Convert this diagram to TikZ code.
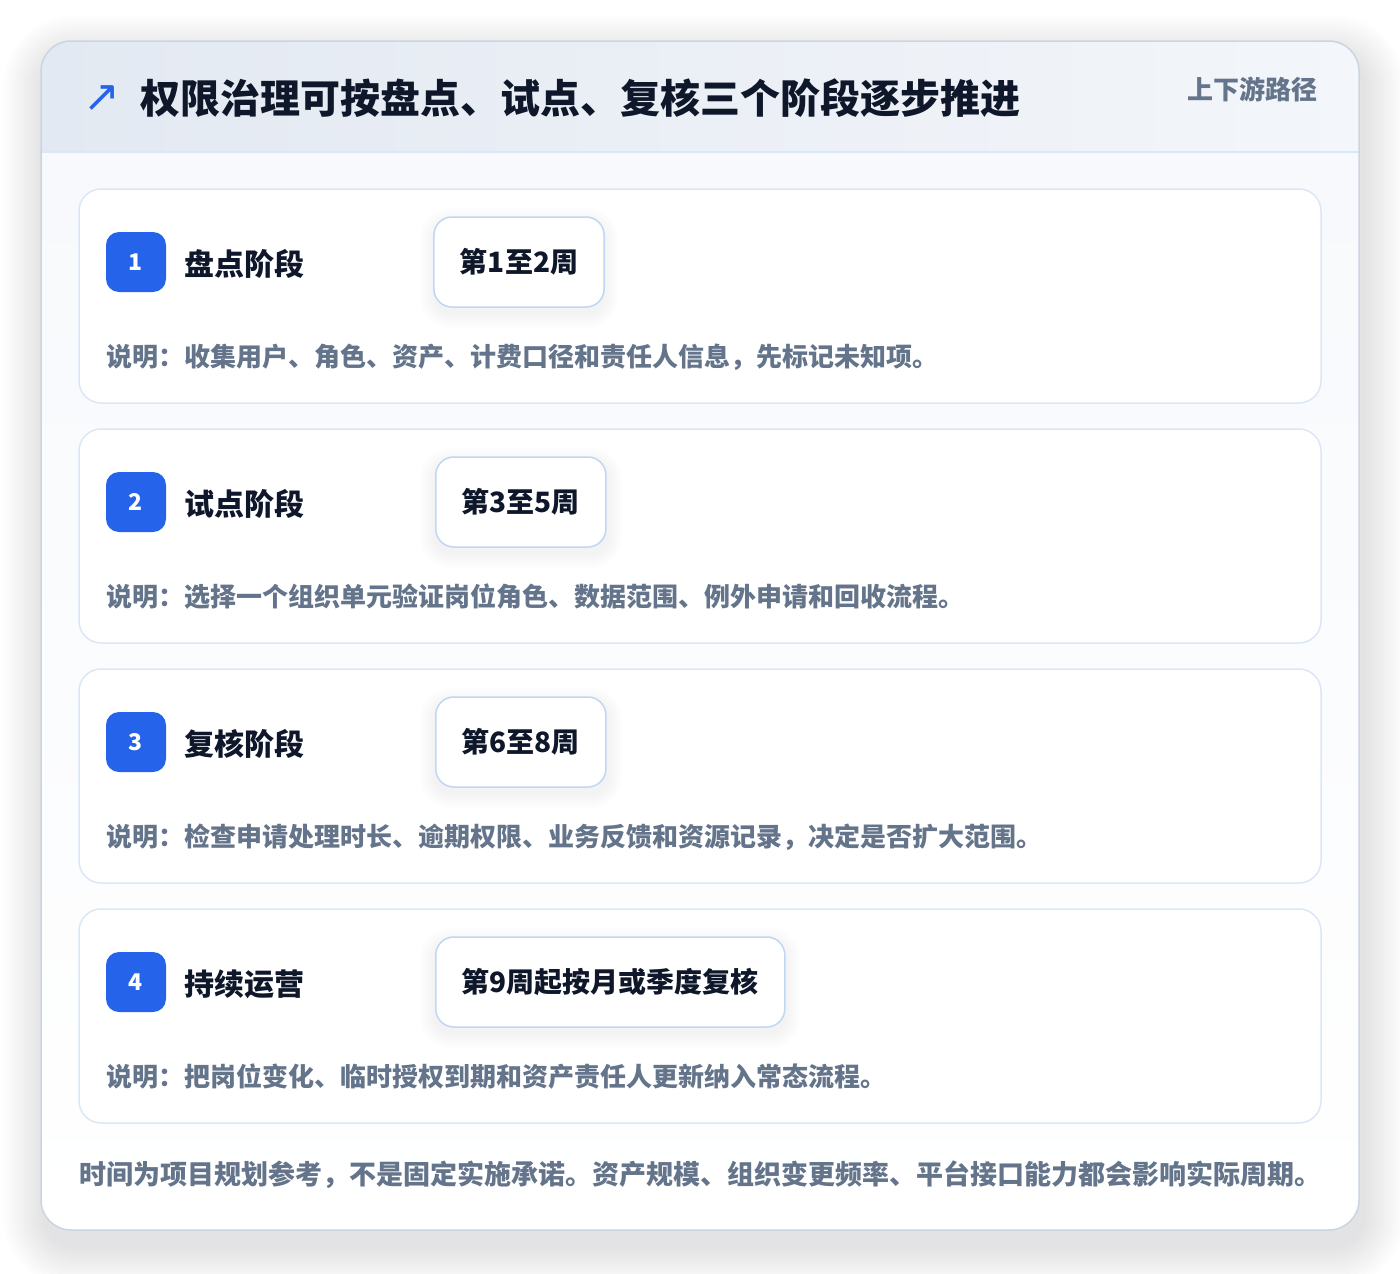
\documentclass[tikz,border=0pt]{standalone}
\usepackage{fontspec}
\setmainfont{Noto Sans CJK SC}
\newfontfamily\symfont{DejaVu Sans}
\definecolor{ink}{HTML}{0F172A}
\definecolor{muted}{HTML}{64748B}
\definecolor{brand}{HTML}{2563EB}
\definecolor{cardline}{HTML}{DBE7F7}
\definecolor{pillline}{HTML}{BFD6F5}
\definecolor{frameline}{HTML}{CBD5E1}
\definecolor{headL}{HTML}{E3E9F2}
\definecolor{headR}{HTML}{F3F6FA}
\definecolor{bodytop}{HTML}{F7F9FC}
\definecolor{shadowc}{HTML}{475569}
\tikzset{
  stagecard/.style={draw=cardline, line width=1.5pt, fill=white, rounded corners=22pt,
    minimum width=1242pt, minimum height=214pt, inner sep=0pt},
  badge/.style={fill=brand, rounded corners=13pt, minimum width=60pt, minimum height=60pt,
    inner sep=0pt, text=white, font=\bfseries\fontsize{23}{23}\selectfont},
  stagetitle/.style={anchor=west, inner sep=0pt, text=ink, font=\bfseries\fontsize{30}{30}\selectfont},
  pill/.style={draw=pillline, line width=1.5pt, fill=white, rounded corners=18pt,
    minimum height=90pt, inner xsep=26pt, inner ysep=0pt, text=ink,
    font=\bfseries\fontsize{28}{28}\selectfont},
  desc/.style={anchor=west, inner sep=0pt, text=muted, font=\bfseries\fontsize{26}{26}\selectfont},
  softshade/.style={fill=shadowc, fill opacity=#1, draw=none},
}
\newcommand{\pillshadow}[4]{% x1 y1 x2 y2
  \foreach \i in {1,...,6}{
    \fill[softshade=0.008, rounded corners={18pt+\i*2pt}]
      ({#1-\i*2.5},{#2-\i*2.5+6}) rectangle ({#3+\i*2.5},{#4+\i*2.5+6});
  }}
\begin{document}
\begin{tikzpicture}[x=1pt,y=-1pt]
\useasboundingbox (0,0) rectangle (1400,1274);
\fill[white] (0,0) rectangle (1400,1274);
% soft shadow of the main frame
\foreach \i in {1,...,14}{
  \fill[softshade=0.007, rounded corners={30pt+\i*3pt}]
    ({41-\i*3+4},{41-\i*3+16}) rectangle ({1359+\i*3+4},{1230+\i*3+16});
}
\path[fill=white, rounded corners=30pt] (41,41) rectangle (1359,1230);
\begin{scope}
  \clip[rounded corners=30pt] (41,41) rectangle (1359,1230);
  \shade[top color=bodytop, bottom color=white] (41,152) rectangle (1359,1230);
  \shade[left color=headL, right color=headR] (41,41) rectangle (1359,152);
  \draw[cardline, line width=1.5pt] (41,152) -- (1359,152);
\end{scope}
\draw[frameline, line width=1.5pt, rounded corners=30pt] (41,41) rectangle (1359,1230);
% header
\node[anchor=center, inner sep=0pt, text=brand, font=\symfont\fontsize{44}{44}\selectfont] (arrow) at (102,99) {↗};
\node[anchor=west, inner sep=0pt, text=ink, font=\bfseries\fontsize{40}{40}\selectfont] (title) at (140,98) {权限治理可按盘点、试点、复核三个阶段逐步推进};
\node[anchor=east, inner sep=0pt, text=muted, font=\bfseries\fontsize{26}{26}\selectfont] (tag) at (1318,89) {上下游路径};
% stage 1
\node[stagecard] (c1) at (700,296) {};
\node[badge] (b1) at (136,262) {1};
\node[stagetitle] (t1) at (184,264) {盘点阶段};
\pillshadow{435}{217}{603}{307}
\node[pill] (p1) at (519,262) {第1至2周};
\node[desc] (d1) at (106,357) {说明：收集用户、角色、资产、计费口径和责任人信息，先标记未知项。};
% stage 2
\node[stagecard] (c2) at (700,536) {};
\node[badge] (b2) at (136,502) {2};
\node[stagetitle] (t2) at (184,504) {试点阶段};
\pillshadow{435}{457}{607}{547}
\node[pill, anchor=west] (p2) at (435,502) {第3至5周};
\node[desc] (d2) at (106,597) {说明：选择一个组织单元验证岗位角色、数据范围、例外申请和回收流程。};
% stage 3
\node[stagecard] (c3) at (700,776) {};
\node[badge] (b3) at (136,742) {3};
\node[stagetitle] (t3) at (184,744) {复核阶段};
\pillshadow{435}{697}{607}{787}
\node[pill, anchor=west] (p3) at (435,742) {第6至8周};
\node[desc] (d3) at (106,837) {说明：检查申请处理时长、逾期权限、业务反馈和资源记录，决定是否扩大范围。};
% stage 4
\node[stagecard] (c4) at (700,1016) {};
\node[badge] (b4) at (136,982) {4};
\node[stagetitle] (t4) at (184,984) {持续运营};
\pillshadow{435}{937}{785}{1027}
\node[pill, anchor=west] (p4) at (435,982) {第9周起按月或季度复核};
\node[desc] (d4) at (106,1077) {说明：把岗位变化、临时授权到期和资产责任人更新纳入常态流程。};
% footer
\node[desc, font=\bfseries\fontsize{27}{27}\selectfont] (foot) at (79,1175) {时间为项目规划参考，不是固定实施承诺。资产规模、组织变更频率、平台接口能力都会影响实际周期。};
\end{tikzpicture}
\end{document}
